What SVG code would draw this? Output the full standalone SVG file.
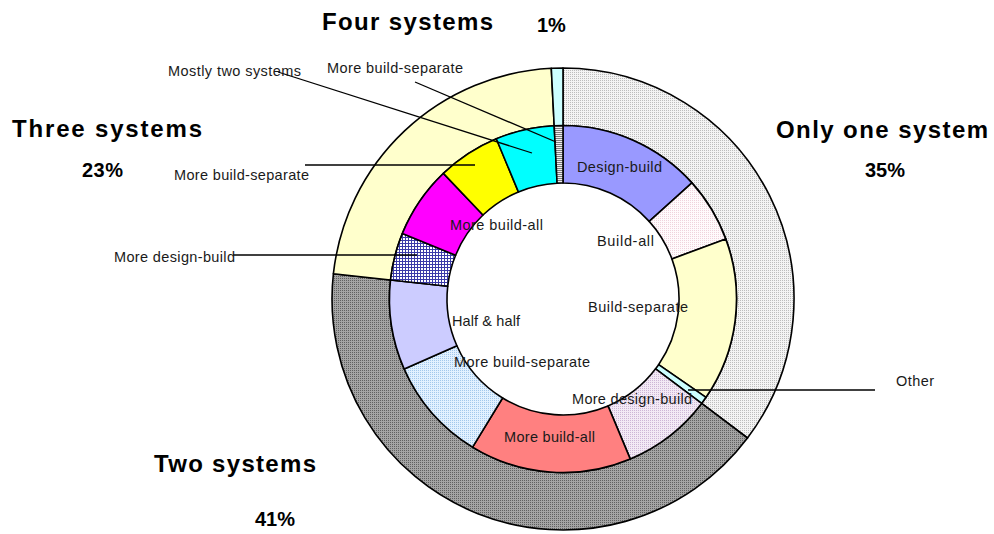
<svg xmlns="http://www.w3.org/2000/svg" width="994" height="534" viewBox="0 0 994 534">
<style>
.seg{stroke:#000;stroke-width:1.6;stroke-linejoin:round}
.big{font-family:"Liberation Sans",Arial,sans-serif;font-weight:bold;font-size:24px;fill:#000}
.pct{font-family:"Liberation Sans",Arial,sans-serif;font-weight:bold;font-size:20px;fill:#000}
.lbl{font-family:"Liberation Sans",Arial,sans-serif;font-size:14.5px;fill:#1a1a1a}
.lead{stroke:#000;stroke-width:1.3;fill:none}
</style>
<defs>
<pattern id="pOne" width="2" height="2" patternUnits="userSpaceOnUse"><rect width="2" height="2" fill="#F4F4F4"/><rect width="1" height="1" fill="#BDBDBD"/></pattern>
<pattern id="pTwo" width="2" height="2" patternUnits="userSpaceOnUse"><rect width="2" height="2" fill="#A4A4A4"/><rect width="1" height="1" fill="#606060"/></pattern>
<pattern id="pBA" width="2" height="2" patternUnits="userSpaceOnUse"><rect width="2" height="2" fill="#FFFBFC"/><rect width="1" height="1" fill="#EFD3DC"/></pattern>
<pattern id="pMDB2" width="2" height="2" patternUnits="userSpaceOnUse"><rect width="2" height="2" fill="#F3EAF5"/><rect width="1" height="1" fill="#CDB6D6"/></pattern>
<pattern id="pMBS2" width="2" height="2" patternUnits="userSpaceOnUse"><rect width="2" height="2" fill="#E2F1FF"/><rect width="1" height="1" fill="#A2C8EC"/></pattern>
<pattern id="pGrid" width="3" height="3" patternUnits="userSpaceOnUse"><rect width="3" height="3" fill="#FFFFFF"/><rect width="3" height="1" fill="#3A3AA8"/><rect width="1" height="3" fill="#3A3AA8"/></pattern>
<pattern id="pStripe" width="2" height="2" patternUnits="userSpaceOnUse"><rect width="2" height="2" fill="#EEEEEE"/><rect width="2" height="1" fill="#7A7A7A"/></pattern>
</defs>
<rect width="994" height="534" fill="#FFFFFF"/>

<g id="outer-ring">
<g id="only-one-system"><path class="seg" fill="url(#pOne)" d="M563 68 A231 231 0 0 1 747.5 438 L701.6 403.4 A173.5 173.5 0 0 0 563 125.5 Z"/></g>
<g id="two-systems"><path class="seg" fill="url(#pTwo)" d="M747.5 438 A231 231 0 0 1 333.4 273.7 L390.5 280 A173.5 173.5 0 0 0 701.6 403.4 Z"/></g>
<g id="three-systems"><path class="seg" fill="#FFFFCC" d="M333.4 273.7 A231 231 0 0 1 551.3 68.3 L554.2 125.7 A173.5 173.5 0 0 0 390.5 280 Z"/></g>
<g id="four-systems"><path class="seg" fill="#CCFFFF" d="M551.3 68.3 A231 231 0 0 1 563 68 L563 125.5 A173.5 173.5 0 0 0 554.2 125.7 Z"/></g>
</g>

<g id="inner-ring">
<g id="one-design-build"><path class="seg" fill="#9999FF" d="M563 125.5 A173.5 173.5 0 0 1 691.9 182.9 L649.2 221.4 A116 116 0 0 0 563 183 Z"/></g>
<g id="one-build-all"><path class="seg" fill="url(#pBA)" d="M691.9 182.9 A173.5 173.5 0 0 1 725.8 239.1 L671.9 258.9 A116 116 0 0 0 649.2 221.4 Z"/></g>
<g id="one-build-separate"><path class="seg" fill="#FFFFCC" d="M725.8 239.1 A173.5 173.5 0 0 1 706 397.3 L658.6 364.7 A116 116 0 0 0 671.9 258.9 Z"/></g>
<g id="one-other"><path class="seg" fill="#CCFFFF" d="M706 397.3 A173.5 173.5 0 0 1 701.6 403.4 L655.6 368.8 A116 116 0 0 0 658.6 364.7 Z"/></g>
<g id="two-more-design-build"><path class="seg" fill="url(#pMDB2)" d="M701.6 403.4 A173.5 173.5 0 0 1 630.2 458.9 L608 405.9 A116 116 0 0 0 655.6 368.8 Z"/></g>
<g id="two-more-build-all"><path class="seg" fill="#FF8080" d="M630.2 458.9 A173.5 173.5 0 0 1 472.6 447.1 L502.6 398 A116 116 0 0 0 608 405.9 Z"/></g>
<g id="two-more-build-separate"><path class="seg" fill="url(#pMBS2)" d="M472.6 447.1 A173.5 173.5 0 0 1 404.2 369 L456.9 345.8 A116 116 0 0 0 502.6 398 Z"/></g>
<g id="two-half-half"><path class="seg" fill="#CCCCFF" d="M404.2 369 A173.5 173.5 0 0 1 390.5 280 L447.7 286.3 A116 116 0 0 0 456.9 345.8 Z"/></g>
<g id="three-more-design-build"><path class="seg" fill="url(#pGrid)" d="M390.5 280 A173.5 173.5 0 0 1 402.4 233.5 L455.6 255.2 A116 116 0 0 0 447.7 286.3 Z"/></g>
<g id="three-more-build-all"><path class="seg" fill="#FF00FF" d="M402.4 233.5 A173.5 173.5 0 0 1 443.4 173.4 L483 215 A116 116 0 0 0 455.6 255.2 Z"/></g>
<g id="three-more-build-separate"><path class="seg" fill="#FFFF00" d="M443.4 173.4 A173.5 173.5 0 0 1 496.3 138.8 L518.4 191.9 A116 116 0 0 0 483 215 Z"/></g>
<g id="three-mostly-two"><path class="seg" fill="#00FFFF" d="M496.3 138.8 A173.5 173.5 0 0 1 554.2 125.7 L557.1 183.2 A116 116 0 0 0 518.4 191.9 Z"/></g>
<g id="four-more-build-separate"><path class="seg" fill="url(#pStripe)" d="M554.2 125.7 A173.5 173.5 0 0 1 563 125.5 L563 183 A116 116 0 0 0 557.1 183.2 Z"/></g>
</g>

<g id="connectors">
<line class="lead" x1="278" y1="72" x2="532" y2="153"/>
<line class="lead" x1="415" y1="82" x2="556" y2="142"/>
<line class="lead" x1="305" y1="165" x2="475" y2="165"/>
<line class="lead" x1="233" y1="255" x2="417" y2="255"/>
<line class="lead" x1="688" y1="390" x2="875" y2="390"/>
</g>

<g id="category-labels">
<text class="big" x="322" y="30" textLength="171" lengthAdjust="spacing">Four systems</text>
<text class="pct" x="537" y="31.5" font-size="17">1%</text>
<text class="big" x="12" y="136.5" textLength="190" lengthAdjust="spacing">Three systems</text>
<text class="pct" x="82" y="176.5" textLength="41" lengthAdjust="spacing">23%</text>
<text class="big" x="776" y="138.3" textLength="212" lengthAdjust="spacing">Only one system</text>
<text class="pct" x="865" y="176.7" textLength="40" lengthAdjust="spacing">35%</text>
<text class="big" x="154" y="471.7" textLength="162" lengthAdjust="spacing">Two systems</text>
<text class="pct" x="255" y="526" textLength="40" lengthAdjust="spacing">41%</text>
</g>

<g id="segment-labels">
<text class="lbl" x="168" y="76" textLength="133" lengthAdjust="spacing">Mostly two systems</text>
<text class="lbl" x="327" y="73.3" textLength="136" lengthAdjust="spacing">More build-separate</text>
<text class="lbl" x="174" y="180" textLength="135" lengthAdjust="spacing">More build-separate</text>
<text class="lbl" x="114" y="261.5" textLength="121" lengthAdjust="spacing">More design-build</text>
<text class="lbl" x="896" y="386" textLength="38" lengthAdjust="spacing">Other</text>
<text class="lbl" x="577" y="171.5" textLength="85" lengthAdjust="spacing">Design-build</text>
<text class="lbl" x="450" y="230" textLength="93" lengthAdjust="spacing">More build-all</text>
<text class="lbl" x="597" y="246" textLength="57" lengthAdjust="spacing">Build-all</text>
<text class="lbl" x="588" y="312.3" textLength="100" lengthAdjust="spacing">Build-separate</text>
<text class="lbl" x="452" y="326" textLength="68" lengthAdjust="spacing">Half &amp; half</text>
<text class="lbl" x="454" y="366.7" textLength="136" lengthAdjust="spacing">More build-separate</text>
<text class="lbl" x="572" y="404" textLength="120" lengthAdjust="spacing">More design-build</text>
<text class="lbl" x="504" y="441.7" textLength="91" lengthAdjust="spacing">More build-all</text>
</g>
</svg>
